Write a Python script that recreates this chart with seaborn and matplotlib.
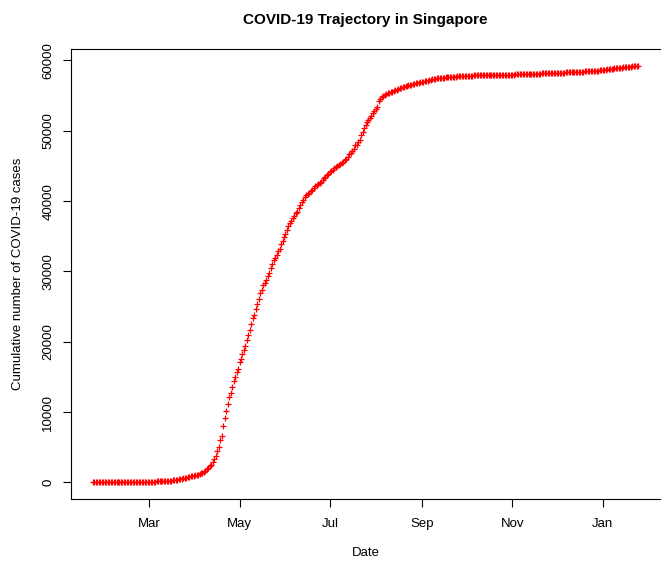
import matplotlib
matplotlib.use('Agg')
import matplotlib.pyplot as plt
import matplotlib.dates as mdates
import pandas as pd
import seaborn as sns

# Cumulative confirmed cases, one value per day starting 2020-01-23
jan_feb = [1, 3, 3, 4, 5, 7, 7, 10, 13, 16, 18, 18, 24, 28, 30, 33, 40, 43, 45, 47,
           50, 58, 67, 72, 75, 77, 81, 84, 85, 86, 89, 89, 90, 91, 93, 96, 98, 102]
mar = [106, 108, 110, 112, 117, 130, 138, 150, 150, 160, 178, 178, 200, 212, 226, 243,
       266, 313, 345, 385, 432, 455, 509, 558, 631, 683, 732, 802, 844, 879, 926]
apr = [1000, 1049, 1114, 1189, 1309, 1375, 1481, 1623, 1910, 2108, 2299, 2532, 2918,
       3252, 3699, 4427, 5050, 5992, 6588, 8014, 9125, 10141, 11178, 12075, 12693,
       13624, 14423, 14951, 15641, 16169]
may = [17101, 17548, 18205, 18778, 19410, 20198, 20939, 21707, 22460, 23336, 23822,
       24671, 25346, 26098, 26891, 27356, 28038, 28343, 28794, 29364, 29812, 30426,
       31068, 31616, 31960, 32343, 32876, 33249, 33860, 34366, 34884]
jun = [35292, 35836, 36405, 36922, 37183, 37527, 37910, 38296, 38514, 38965, 39387,
       39850, 40197, 40604, 40818, 40969, 41216, 41473, 41615, 41833, 42095, 42313,
       42432, 42623, 42736, 42955, 43246, 43459, 43661, 43907]
jul = [44122, 44310, 44479, 44664, 44800, 44983, 45140, 45298, 45423, 45613, 45783,
       45961, 46283, 46630, 46878, 47126, 47453, 47912, 48035, 48434, 48744, 49375,
       49888, 50369, 50838, 51197, 51531, 51809, 52141, 52512, 52825]
aug = [53051, 53346, 54254, 54555, 54797, 54929, 55104, 55292, 55353, 55395, 55497,
       55580, 55661, 55747, 55838, 55938, 56031, 56099, 56216, 56266, 56353, 56404,
       56435, 56495, 56572, 56666, 56717, 56771, 56812, 56852, 56901]
sep = [56948, 56982, 57022, 57044, 57091, 57166, 57229, 57315, 57357, 57406, 57454,
       57488, 57514, 57532, 57543, 57558, 57576, 57606, 57627, 57639, 57654, 57665,
       57685, 57700, 57715, 57742, 57765, 57784, 57800, 57812]
oct_ = [57819, 57832, 57840, 57846, 57849, 57859, 57866, 57876, 57880, 57884, 57889,
        57892, 57901, 57904, 57911, 57915, 57921, 57925, 57933, 57938, 57941, 57951,
        57954, 57958, 57965, 57970, 57973, 57974, 57976, 57978, 57980]
nov = [57987, 57994, 58003, 58015, 58019, 58029, 58036, 58043, 58047, 58054, 58056,
       58064, 58073, 58091, 58102, 58116, 58119, 58124, 58130, 58139, 58143, 58148,
       58160, 58165, 58183, 58190, 58197, 58205, 58213, 58218]
dec = [58228, 58230, 58242, 58255, 58260, 58273, 58285, 58291, 58297, 58305, 58313,
       58320, 58325, 58341, 58353, 58377, 58386, 58403, 58422, 58432, 58461, 58482,
       58495, 58507, 58519, 58524, 58529, 58542, 58554, 58569, 58599]
jan21 = [58629, 58662, 58697, 58721, 58749, 58780, 58813, 58836, 58865, 58907, 58929,
         58946, 58961, 58984, 59015, 59050, 59059, 59084, 59113, 59127, 59157, 59197,
         59225, 59235, 59250]

cases = jan_feb + mar + apr + may + jun + jul + aug + sep + oct_ + nov + dec + jan21
start_date = '2020-01-23'
y_ticks = [0, 10000, 20000, 30000, 40000, 50000, 60000]
x_ticks = ['2020-03-01', '2020-05-01', '2020-07-01', '2020-09-01', '2020-11-01', '2021-01-01']

df = pd.DataFrame({'date': pd.date_range(start_date, periods=len(cases), freq='D'),
                   'cases': cases})

sns.set_style('white')
plt.rcParams['font.family'] = ['Liberation Sans', 'DejaVu Sans']
plt.rcParams['text.color'] = 'black'
plt.rcParams['axes.labelcolor'] = 'black'
plt.rcParams['xtick.color'] = 'black'
plt.rcParams['ytick.color'] = 'black'

fig = plt.figure(figsize=(6.66, 5.61), dpi=100)
ax = fig.add_axes([0.1066, 0.1105, 0.8844, 0.8021])

sns.scatterplot(data=df, x='date', y='cases', marker='+', color='red',
                s=16, linewidth=0.9, ax=ax, legend=False)

# R-style 4% padding around data range
dmin, dmax = mdates.date2num(df['date'].min()), mdates.date2num(df['date'].max())
pad = (dmax - dmin) * 0.04
ax.set_xlim(dmin - pad, dmax + pad)
ymax = max(cases)
ax.set_ylim(-ymax * 0.04, ymax * 1.04)

ax.set_xticks(pd.to_datetime(x_ticks))
ax.xaxis.set_major_formatter(mdates.DateFormatter('%b'))
ax.set_yticks(y_ticks)
ax.set_yticklabels([str(v) for v in y_ticks], rotation=90, va='center')

ax.tick_params(axis='both', direction='out', length=6, width=0.8,
               labelsize=9.5, bottom=True, left=True)
ax.tick_params(axis='x', pad=8)
ax.tick_params(axis='y', pad=6)
for s in ax.spines.values():
    s.set_color('black')
    s.set_linewidth(0.8)
ax.spines['right'].set_visible(False)

ax.set_xlabel('Date', fontsize=9.5, labelpad=12)
ax.set_ylabel('Cumulative number of COVID-19 cases', fontsize=9.5, labelpad=13)
ax.set_title('COVID-19 Trajectory in Singapore', fontsize=11, fontweight='bold', pad=18)

fig.savefig('out.png', dpi=100)
